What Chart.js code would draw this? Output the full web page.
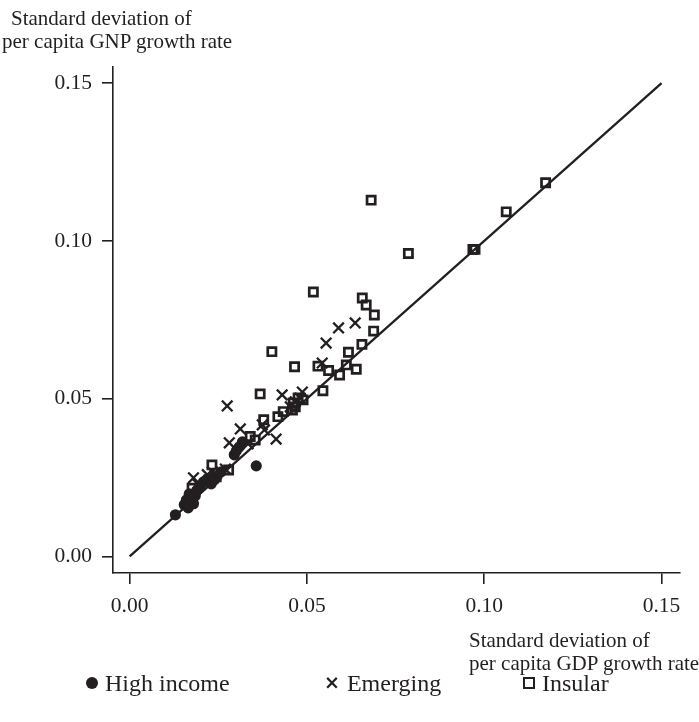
<!DOCTYPE html>
<html>
<head>
<meta charset="utf-8">
<script src="https://cdn.jsdelivr.net/npm/chart.js@4.4.0/dist/chart.umd.min.js"></script>
<style>
  html, body { margin: 0; padding: 0; background: #fff; }
  #wrap { position: relative; width: 699px; height: 722px; font-family: "Liberation Serif", "DejaVu Serif", serif; color: #231f20; }
  canvas { position: absolute; left: 0; top: 0; }
  .t { position: absolute; white-space: nowrap; font-size: 21px; line-height: 23px; }
  .leg { position: absolute; white-space: nowrap; font-size: 24px; line-height: 28px; top: 669px; }
  .sym { display: inline-block; vertical-align: middle; margin-right: 7px; position: relative; top: -2px; }
</style>
</head>
<body>
<div id="wrap">
  <canvas id="c" width="699" height="722"></canvas>
  <div class="t" style="left:11px; top:7px;">Standard deviation of<br><span style="margin-left:-9px">per capita GNP growth rate</span></div>
  <div class="t" style="left:469px; top:629px;">Standard deviation of<br>per capita GDP growth rate</div>
  <div class="leg" style="left:86px;"><span class="sym" style="width:12px;height:12px;border-radius:50%;background:#231f20;"></span>High income</div>
  <div class="leg" style="left:324px;"><span class="sym" style="font-family:'DejaVu Sans';font-weight:bold;font-size:19px;line-height:18px;top:-3px;">×</span>Emerging</div>
  <div class="leg" style="left:523px;"><span class="sym" style="width:8px;height:8px;border:2.5px solid #231f20;"></span>Insular</div>
</div>
<script>
// Tick values
const xTicks = [0.00, 0.05, 0.10, 0.15];
const yTicks = [0.00, 0.05, 0.10, 0.15];

// High income (GDP sd, GNP sd)
const highX = [0.0129, 0.0154, 0.0160, 0.0168, 0.0177, 0.0185, 0.0191, 0.0199, 0.0208, 0.0219, 0.0230, 0.0239, 0.0247, 0.0258, 0.0295, 0.0301, 0.0309, 0.0318, 0.0357, 0.0165, 0.0180];
const highY = [0.0132, 0.0164, 0.0179, 0.0198, 0.0179, 0.0192, 0.0211, 0.0221, 0.0236, 0.0246, 0.0230, 0.0243, 0.0255, 0.0268, 0.0322, 0.0335, 0.0347, 0.0363, 0.0287, 0.0154, 0.0167];

// Emerging
const emgX = [0.0275, 0.0312, 0.0281, 0.0413, 0.0589, 0.0636, 0.0554, 0.0543, 0.0430, 0.0487, 0.0180, 0.0233, 0.0191, 0.0374, 0.0380, 0.0453, 0.0467, 0.0270, 0.0334, 0.0219, 0.0481];
const emgY = [0.0477, 0.0404, 0.0360, 0.0372, 0.0724, 0.0740, 0.0676, 0.0613, 0.0512, 0.0521, 0.0249, 0.0268, 0.0230, 0.0417, 0.0401, 0.0474, 0.0490, 0.0277, 0.0357, 0.0259, 0.0502];

// Insular
const insX = [0.1173, 0.1062, 0.0968, 0.0974, 0.0786, 0.0681, 0.0518, 0.0656, 0.0667, 0.0690, 0.0688, 0.0655, 0.0401, 0.0617, 0.0465, 0.0531, 0.0561, 0.0592, 0.0611, 0.0639, 0.0545, 0.0368, 0.0461, 0.0475, 0.0489, 0.0433, 0.0418, 0.0378, 0.0340, 0.0354, 0.0232, 0.0279, 0.0176, 0.0467, 0.0459, 0.0244];
const insY = [0.1184, 0.1092, 0.0973, 0.0973, 0.0960, 0.1129, 0.0838, 0.0819, 0.0797, 0.0765, 0.0714, 0.0672, 0.0649, 0.0647, 0.0601, 0.0603, 0.0589, 0.0575, 0.0607, 0.0593, 0.0525, 0.0515, 0.0486, 0.0502, 0.0496, 0.0459, 0.0443, 0.0433, 0.0380, 0.0369, 0.0290, 0.0274, 0.0216, 0.0474, 0.0464, 0.0252];

// 45-degree reference line
const lineX = [0.00, 0.15];
const lineY = [0.00, 0.15];

const pts = (xs, ys) => xs.map((x, i) => ({ x: x, y: ys[i] }));
const ink = '#231f20';

new Chart(document.getElementById('c'), {
  type: 'scatter',
  data: {
    datasets: [
      { label: 'Insular', data: pts(insX, insY), pointStyle: 'rect', pointRadius: 5.8, borderColor: ink, backgroundColor: 'rgba(0,0,0,0)', borderWidth: 2.7 },
      { label: 'Emerging', data: pts(emgX, emgY), pointStyle: 'crossRot', pointRadius: 7.5, borderColor: ink, backgroundColor: ink, borderWidth: 2.3 },
      { label: 'High income', data: pts(highX, highY), pointStyle: 'circle', pointRadius: 5.6, borderColor: ink, backgroundColor: ink, borderWidth: 0 },
      { label: '45', data: pts(lineX, lineY), showLine: true, pointRadius: 0, borderColor: ink, borderWidth: 2.3 }
    ]
  },
  options: {
    responsive: false,
    animation: false,
    events: [],
    layout: { padding: { left: 0, right: 19, top: 67, bottom: 0 } },
    plugins: { legend: { display: false }, tooltip: { enabled: false } },
    scales: {
      x: {
        type: 'linear',
        min: -0.0047,
        max: 0.1552,
        afterFit: s => { s.height = 149; },
        afterBuildTicks: s => { s.ticks = xTicks.map(v => ({ value: v })); },
        ticks: { color: ink, padding: 9, font: { family: 'Liberation Serif', size: 21.5 }, callback: v => v.toFixed(2), maxRotation: 0 },
        grid: { drawOnChartArea: false, drawTicks: true, tickLength: 11, color: ink, lineWidth: 1.6 },
        border: { display: true, color: ink, width: 1.6 }
      },
      y: {
        type: 'linear',
        min: -0.00525,
        max: 0.1551,
        afterFit: s => { s.width = 113; },
        afterBuildTicks: s => { s.ticks = yTicks.map(v => ({ value: v })); },
        ticks: { color: ink, padding: 10, font: { family: 'Liberation Serif', size: 21.5 }, callback: v => v.toFixed(2) },
        grid: { drawOnChartArea: false, drawTicks: true, tickLength: 11, color: ink, lineWidth: 1.6 },
        border: { display: true, color: ink, width: 1.6 }
      }
    }
  }
});
</script>
</body>
</html>
